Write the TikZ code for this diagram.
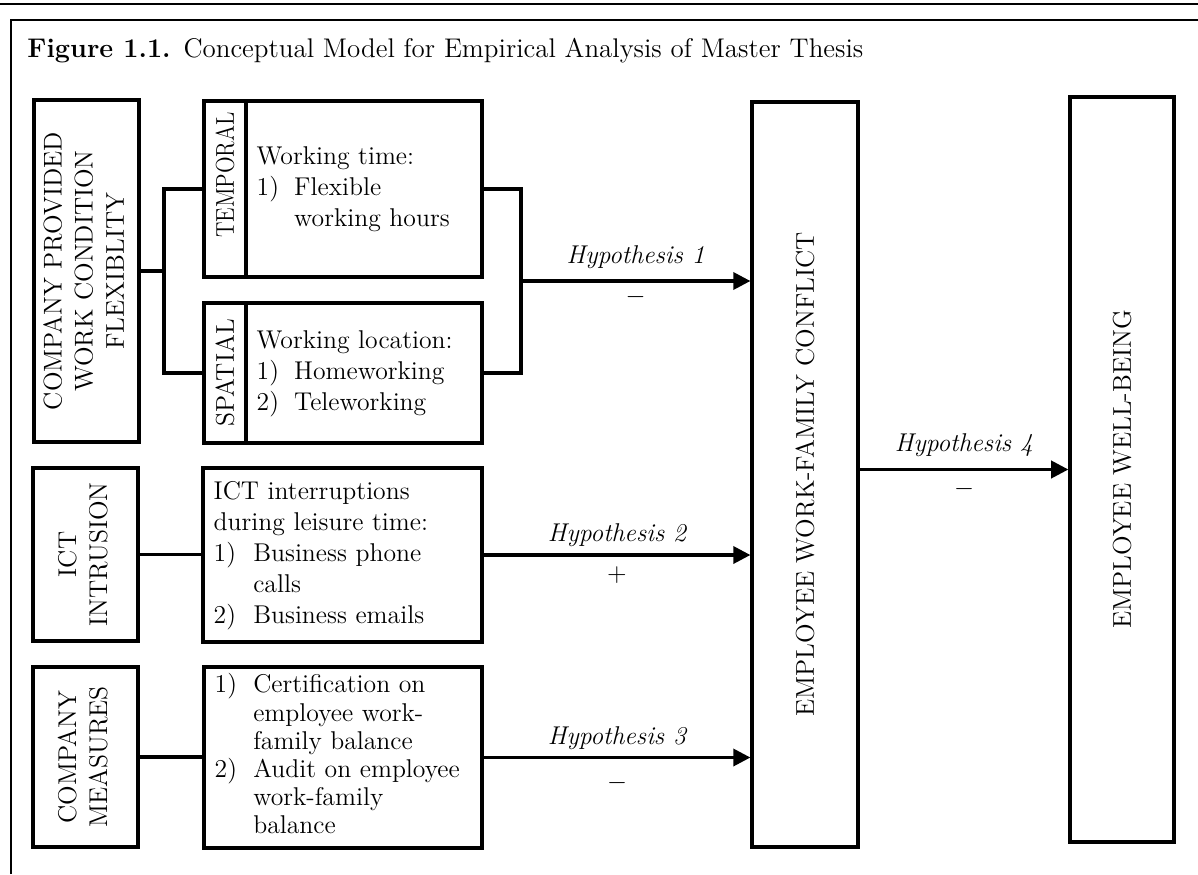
\documentclass[tikz,border=0pt]{standalone}
\usepackage{graphicx}
\usetikzlibrary{arrows.meta}
\begin{document}
\begin{tikzpicture}[x=0.467pt,y=-0.467pt,
  every node/.style={font=\fontsize{12}{14.5}\selectfont},
  box/.style={draw, line width=1.5pt, inner sep=0pt},
  listbox/.style={box, align=left, inner xsep=5pt, inner ysep=0pt},
  link/.style={line width=1.5pt},
  hyp/.style={line width=1.5pt, -{Triangle[length=8pt,width=8pt]}},
  hlabel/.style={anchor=base, font=\fontsize{12}{14.5}\selectfont\itshape},
  sign/.style={anchor=base}]
\useasboundingbox (0,0) rectangle (1198,874);

% page rule and figure frame
\draw[line width=1.3pt] (0,4) -- (1198,4);
\draw[line width=0.8pt] (11,874) -- (11,20) -- (1198,20);

\node[anchor=base west, inner sep=0pt, font=\fontsize{12.6}{14.5}\selectfont] (title) at (27,57)
  {\makebox[72.9pt][l]{\textbf{Figure 1.1.}}Conceptual Model for Empirical Analysis of Master Thesis};

% left column: constructs
\node[box, minimum width=49pt, minimum height=159.7pt] (cpw) at (86.5,271)
  {\rotatebox{90}{\begin{tabular}{@{}c@{}}COMPANY PROVIDED\\ WORK CONDITION\\ FLEXIBLITY\end{tabular}}};
\node[box, minimum width=49pt, minimum height=80.8pt] (ict) at (85.5,554.5)
  {\rotatebox{90}{\begin{tabular}{@{}c@{}}ICT\\ INTRUSION\end{tabular}}};
\node[box, minimum width=49pt, minimum height=84.1pt] (meas) at (85.5,757)
  {\rotatebox{90}{\begin{tabular}{@{}c@{}}COMPANY\\ MEASURES\end{tabular}}};

% flexibility dimensions
\node[box, minimum width=19.6pt, minimum height=82.2pt] (tempL) at (225,189) {};
\node[inner sep=0pt] (tempT) at (225,175) {\rotatebox{90}{\scalebox{0.85}[1]{TEMPORAL}}};
\node[listbox, text width=100.2pt, minimum height=82.2pt] (tempC) at (364,189)
  {\begin{tabular}{@{}p{17.5pt}@{}l@{}}
   \multicolumn{2}{@{}l@{}}{Working time:}\\
   1) & Flexible\\
      & working hours
   \end{tabular}};

\node[box, minimum width=19.6pt, minimum height=65.4pt] (spatL) at (225,373)
  {\rotatebox{90}{SPATIAL}};
\node[listbox, text width=100.2pt, minimum height=65.4pt] (spatC) at (364,373)
  {\begin{tabular}{@{}p{17.5pt}@{}l@{}}
   \multicolumn{2}{@{}l@{}}{Working location:}\\
   1) & Homeworking\\
   2) & Teleworking
   \end{tabular}};

\node[listbox, text width=120.3pt, minimum height=81.3pt] (ictC) at (342.5,555)
  {\begin{tabular}{@{}p{18.5pt}@{}l@{}}
   \multicolumn{2}{@{}l@{}}{ICT interruptions}\\
   \multicolumn{2}{@{}l@{}}{during leisure time:}\\
   1) & Business phone\\
      & calls\\
   2) & Business emails
   \end{tabular}};

\node[listbox, text width=119.8pt, minimum height=84.5pt,
      font=\fontsize{12}{13.1}\selectfont] (measC) at (343,757.5)
  {\begin{tabular}{@{}p{18pt}@{}l@{}}
   1) & Certification on\\
      & employee work-\\
      & family balance\\
   2) & Audit on employee\\
      & work-family\\
      & balance
   \end{tabular}};

% outcomes
\node[box, minimum width=49.5pt, minimum height=347.9pt] (conf) at (805,474.5)
  {\rotatebox{90}{EMPLOYEE WORK-FAMILY CONFLICT}};
\node[box, minimum width=48.6pt, minimum height=347.9pt] (well) at (1122,469.5)
  {\rotatebox{90}{EMPLOYEE WELL-BEING}};

% connectors
\coordinate (b1) at (164,271);
\draw[link] (cpw.east) -- (b1);
\draw[link] (tempL.west) -| (b1);
\draw[link] (spatL.west) -| (b1);

\coordinate (j1) at (521,281);
\draw[link] (tempC.east) -| (j1);
\draw[link] (spatC.east) -| (j1);

\draw[link] (ict.east) -- (ict.east -| ictC.west);
\draw[link] (meas.east) -- (meas.east -| measC.west);

% hypotheses
\draw[hyp] (j1) -- (j1 -| conf.west)
  node[midway, hlabel, yshift=8.4pt] (h1) {Hypothesis 1}
  node[midway, sign, yshift=-10.6pt] (s1) {$-$};
\draw[hyp] (ictC.east) -- (ictC.east -| conf.west)
  node[midway, hlabel, yshift=6.1pt] (h2) {Hypothesis 2}
  node[midway, sign, yshift=-12.3pt] (s2) {+};
\draw[hyp] (measC.east) -- (measC.east -| conf.west)
  node[midway, hlabel, yshift=6.1pt] (h3) {Hypothesis 3}
  node[midway, sign, yshift=-14.8pt] (s3) {$-$};
\draw[hyp] (conf.east |- well.west) -- (well.west)
  node[midway, hlabel, yshift=8.4pt] (h4) {Hypothesis 4}
  node[midway, sign, yshift=-12pt] (s4) {$-$};
\end{tikzpicture}
\end{document}
